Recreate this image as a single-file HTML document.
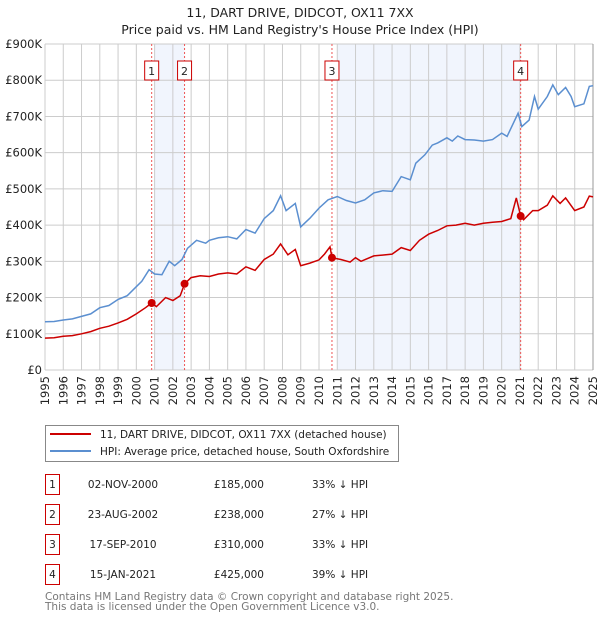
<!DOCTYPE html>
<html><head><meta charset="utf-8"><style>
body{margin:0;background:#fff;font-family:"DejaVu Sans","Liberation Sans",sans-serif;}
#wrap{position:relative;width:600px;height:620px;overflow:hidden;}
svg text{font-family:"DejaVu Sans","Liberation Sans",sans-serif;}
</style></head><body>
<div id="wrap">
<svg id="chart" width="600" height="620" xmlns="http://www.w3.org/2000/svg"></svg>
</div>
<script>
const hpiYears=[1995,1995.5,1996,1996.5,1997,1997.5,1998,1998.5,1999,1999.5,2000,2000.3,2000.7,2001,2001.4,2001.8,2002.1,2002.5,2002.8,2003.3,2003.8,2004,2004.5,2005,2005.5,2006,2006.5,2007,2007.5,2007.9,2008.2,2008.7,2009,2009.5,2010,2010.5,2011,2011.5,2012,2012.5,2013,2013.5,2014,2014.5,2015,2015.3,2015.8,2016.2,2016.5,2017,2017.3,2017.6,2018,2018.5,2019,2019.5,2020,2020.3,2020.9,2021.1,2021.5,2021.8,2022,2022.5,2022.8,2023.1,2023.5,2023.8,2024,2024.5,2024.8,2025];
const hpiValues=[133,134,138,141,148,155,172,178,195,205,230,245,277,265,263,300,288,305,336,358,350,358,365,368,362,388,378,418,440,481,440,460,395,419,447,470,479,468,461,470,489,495,493,534,525,571,594,621,627,641,632,646,636,635,632,636,654,645,709,672,690,755,720,755,787,760,780,755,727,735,783,785];
const priceYears=[1995,1995.5,1996,1996.5,1997,1997.5,1998,1998.5,1999,1999.5,2000,2000.5,2000.84,2001.1,2001.6,2002,2002.4,2002.64,2003,2003.5,2004,2004.5,2005,2005.5,2006,2006.5,2007,2007.5,2007.9,2008.3,2008.7,2009,2009.5,2010,2010.3,2010.6,2010.71,2011.2,2011.7,2012,2012.3,2013,2014,2014.5,2015,2015.5,2016,2016.5,2017,2017.5,2018,2018.5,2019,2019.5,2020,2020.5,2020.8,2021.04,2021.2,2021.7,2022,2022.5,2022.8,2023.2,2023.5,2024,2024.5,2024.8,2025];
const priceValues=[88,89,93,95,100,106,115,121,130,140,155,172,185,175,200,192,205,238,255,260,258,265,268,265,285,275,305,320,348,318,333,288,295,304,320,340,310,305,298,310,300,315,320,338,330,358,375,385,398,400,405,400,405,408,410,418,475,425,415,440,440,455,481,460,475,440,450,480,478];
const saleLabels=["1","2","3","4"];
const saleYears=[2000.84,2002.64,2010.71,2021.04];
const salePrices=[185,238,310,425];
const shadeStarts=[2001.0,2011.0];
const shadeEnds=[2002.64,2021.04];
const yTicks=[0,100,200,300,400,500,600,700,800,900];
const yTickLabels=["£0","£100K","£200K","£300K","£400K","£500K","£600K","£700K","£800K","£900K"];
const xTicks=[1995,1996,1997,1998,1999,2000,2001,2002,2003,2004,2005,2006,2007,2008,2009,2010,2011,2012,2013,2014,2015,2016,2017,2018,2019,2020,2021,2022,2023,2024,2025];
const tableDates=["02-NOV-2000","23-AUG-2002","17-SEP-2010","15-JAN-2021"];
const tablePrices=["£185,000","£238,000","£310,000","£425,000"];
const tablePcts=["33% ↓ HPI","27% ↓ HPI","33% ↓ HPI","39% ↓ HPI"];

const NS="http://www.w3.org/2000/svg";
const svg=document.getElementById('chart');
const X0=45,X1=593,Y0=370,Y1=44;
const xs=y=>X0+(y-1995)/(2025-1995)*(X1-X0);
const ys=v=>Y0-v/900*(Y0-Y1);
function mk(tag,attrs,parent){const e=document.createElementNS(NS,tag);for(const k in attrs)e.setAttribute(k,attrs[k]);(parent||svg).appendChild(e);return e;}
function txt(s,attrs,parent){const e=mk('text',attrs,parent);e.textContent=s;return e;}

let t=txt("11, DART DRIVE, DIDCOT, OX11 7XX",{x:300,y:17,'text-anchor':'middle','font-size':12.5,fill:'#222'});


t=txt("Price paid vs. HM Land Registry's House Price Index (HPI)",{x:300,y:34,'text-anchor':'middle','font-size':12.5,fill:'#222'});



for(let i=0;i<shadeStarts.length;i++){
  const r=mk('rect',{x:xs(shadeStarts[i]),y:Y1,width:xs(shadeEnds[i])-xs(shadeStarts[i]),height:Y0-Y1,fill:'#eef3fc',opacity:0.8});
  
  
}
for(let i=0;i<xTicks.length;i++){
  const x=xs(xTicks[i]);
  const l=mk('line',{x1:x,x2:x,y1:Y1,y2:Y0,stroke:'#cccccc','stroke-width':1});
  
  
  const lt=txt(String(xTicks[i]),{x:0,y:0,transform:`translate(${x+4},${Y0+6}) rotate(-90)`,'text-anchor':'end','font-size':11.5,fill:'#222'});
  
  
}
for(let i=0;i<yTicks.length;i++){
  const y=ys(yTicks[i]);
  const l=mk('line',{x1:X0,x2:X1,y1:y,y2:y,stroke:'#cccccc','stroke-width':1});
  
  
  const lt=txt(yTickLabels[i],{x:X0-3,y:y+4,'text-anchor':'end','font-size':11.5,fill:'#222'});
  
  
}
const ax=mk('line',{x1:X1,x2:X1,y1:Y1,y2:Y0,stroke:'#999','stroke-width':1});



for(let i=0;i<saleYears.length;i++){
  const x=xs(saleYears[i]);
  const l=mk('line',{x1:x,x2:x,y1:Y1,y2:Y0,stroke:'#ee5555','stroke-width':1,'stroke-dasharray':'2,2'});
  
  
  const g=mk('g',{});
  
  
  mk('rect',{x:x-7,y:61,width:14,height:19,fill:'#fff',stroke:'#cc0000','stroke-width':1},g);
  txt(saleLabels[i],{x:x,y:75,'text-anchor':'middle','font-size':11,fill:'#222'},g);
}
function pathOf(xa,va){return xa.map((y,i)=>(i?'L':'M')+xs(y).toFixed(1)+','+ys(va[i]).toFixed(1)).join('');}
let p=mk('path',{d:pathOf(hpiYears,hpiValues),fill:'none',stroke:'#5b8fd0','stroke-width':1.5});


p=mk('path',{d:pathOf(priceYears,priceValues),fill:'none',stroke:'#cc0000','stroke-width':1.5});


for(let i=0;i<saleYears.length;i++){
  const c=mk('circle',{cx:xs(saleYears[i]),cy:ys(salePrices[i]),r:4,fill:'#cc0000'});
  
  
}

const lg=mk('g',{});


mk('rect',{x:45.5,y:425.5,width:353,height:36,fill:'#fff',stroke:'#888','stroke-width':1},lg);
mk('line',{x1:50,x2:91,y1:434,y2:434,stroke:'#cc0000','stroke-width':2},lg);
txt("11, DART DRIVE, DIDCOT, OX11 7XX (detached house)",{x:100,y:438,'font-size':10.5,fill:'#222'},lg);
mk('line',{x1:50,x2:91,y1:451,y2:451,stroke:'#5b8fd0','stroke-width':2},lg);
txt("HPI: Average price, detached house, South Oxfordshire",{x:100,y:455,'font-size':10.5,fill:'#222'},lg);

for(let i=0;i<tableDates.length;i++){
  const cy=483+i*30;
  const g=mk('g',{});
  
  
  mk('rect',{x:45.5,y:cy-8.5,width:14,height:20,fill:'#fff',stroke:'#cc0000','stroke-width':1},g);
  txt(saleLabels[i],{x:52.5,y:cy+5,'text-anchor':'middle','font-size':10.5,fill:'#222'},g);
  txt(tableDates[i],{x:123,y:cy+5,'text-anchor':'middle','font-size':10.5,fill:'#222'},g);
  txt(tablePrices[i],{x:264,y:cy+5,'text-anchor':'end','font-size':10.5,fill:'#222'},g);
  txt(tablePcts[i],{x:312,y:cy+5,'font-size':10.5,fill:'#222'},g);
}
t=txt("Contains HM Land Registry data © Crown copyright and database right 2025.",{x:45,y:600,'font-size':10.5,fill:'#777'});


t=txt("This data is licensed under the Open Government Licence v3.0.",{x:45,y:610,'font-size':10.5,fill:'#777'});


</script>
</body></html>
